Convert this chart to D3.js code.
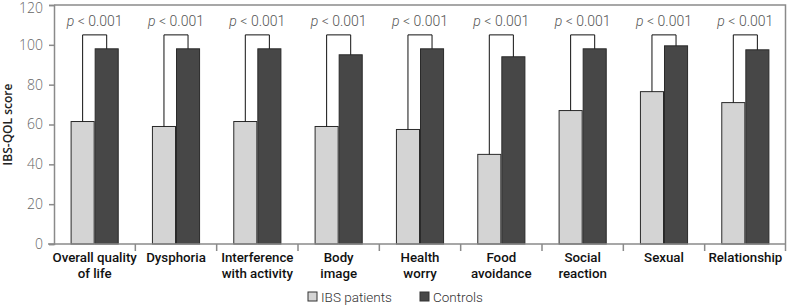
<!DOCTYPE html>
<html>
<head>
<meta charset="utf-8">
<script src="https://cdn.jsdelivr.net/npm/d3@7"></script>
<style>
  body { margin: 0; background: #fff; }
  svg text { font-family: Roboto, "Open Sans", sans-serif; }
</style>
</head>
<body>
<div id="chart"></div>
<script>
// Data
const categories = ["Overall quality of life", "Dysphoria", "Interference with activity", "Body image",
    "Health worry", "Food avoidance", "Social reaction", "Sexual", "Relationship"];
const categoryLines = [["Overall quality", "of life"], ["Dysphoria"], ["Interference", "with activity"],
    ["Body", "image"], ["Health", "worry"], ["Food", "avoidance"], ["Social", "reaction"], ["Sexual"], ["Relationship"]];
const series = ["IBS patients", "Controls"];
const ibsPatients = [61.5, 59, 61.5, 59, 57.5, 45, 67, 76.5, 71];
const controls = [98, 98, 98, 95, 98, 94, 98, 99.5, 97.5];
const pLabels = ["p < 0.001", "p < 0.001", "p < 0.001", "p < 0.001", "p < 0.001",
    "p < 0.001", "p < 0.001", "p < 0.001", "p < 0.001"];
const bracketLevel = 105;
const yTicks = [0, 20, 40, 60, 80, 100, 120];

const width = 787, height = 306;
const margin = {top: 5, right: 1, bottom: 62, left: 54};
const colors = {"IBS patients": "#d4d4d4", "Controls": "#474747"};
const axisColor = "#8a8a8a";

const svg = d3.select('#chart').append('svg')
    .attr('width', width).attr('height', height);

const x0 = d3.scaleBand().domain(categories)
    .range([margin.left, width - margin.right]).padding(0);
const x1 = d3.scaleBand().domain(series)
    .range([0, x0.bandwidth()]).paddingInner(0).paddingOuter(0.69);
const y = d3.scaleLinear().domain([0, 120]).range([height - margin.bottom, margin.top]);

// frame: top and right borders
svg.append('path')
    .attr('d', `M${margin.left},${margin.top}H${width - margin.right - 0.5}V${y(0) + 7}`)
    .attr('fill', 'none').attr('stroke', axisColor).attr('stroke-width', 1.5);

// y axis
const yAxis = svg.append('g')
    .attr('transform', `translate(${margin.left},0)`)
    .call(d3.axisLeft(y).tickValues(yTicks).tickSize(5).tickPadding(6));
yAxis.select('.domain').attr('stroke', axisColor).attr('stroke-width', 1.5);
yAxis.selectAll('.tick line').attr('stroke', axisColor).attr('stroke-width', 1.5);
yAxis.selectAll('.tick text').attr('fill', '#666').attr('font-size', 14)
    .attr('font-weight', 300).style('font-family', '"Open Sans", sans-serif')
    .attr('dy', d => d === 120 ? '0.55em' : '0.32em');

// y axis title
svg.append('text')
    .attr('transform', `translate(12,${(y(0) + y(120)) / 2}) rotate(-90)`)
    .attr('text-anchor', 'middle')
    .attr('font-size', 12).attr('font-weight', 600).attr('fill', '#222')
    .style('font-family', '"Open Sans", sans-serif')
    .text('IBS-QOL score');

// bars
const groups = svg.append('g').selectAll('g.group')
    .data(categories.map((c, i) => ({cat: c, values: [ibsPatients[i], controls[i]]})))
    .join('g').classed('group', true)
    .attr('transform', d => `translate(${x0(d.cat)},0)`);

groups.selectAll('rect')
    .data(d => series.map((s, j) => ({key: s, value: d.values[j]})))
    .join('rect')
    .attr('x', d => x1(d.key) + 0.5)
    .attr('y', d => y(d.value))
    .attr('width', x1.bandwidth() - 1)
    .attr('height', d => y(0) - y(d.value))
    .attr('fill', d => colors[d.key])
    .attr('stroke', '#2a2a2a').attr('stroke-width', 1);

// significance brackets
groups.append('path')
    .attr('d', d => {
        const a = x1(series[0]) + x1.bandwidth() / 2, b = x1(series[1]) + x1.bandwidth() / 2;
        return `M${a},${y(d.values[0])}V${y(bracketLevel)}H${b}V${y(d.values[1])}`;
    })
    .attr('fill', 'none').attr('stroke', '#111').attr('stroke-width', 1);

groups.append('text')
    .attr('x', x0.bandwidth() / 2)
    .attr('y', 26)
    .attr('text-anchor', 'middle')
    .attr('font-size', 14).attr('font-weight', 300).attr('fill', '#555')
    .each(function(d, i){
        const parts = pLabels[i].split(' ');
        const t = d3.select(this);
        t.append('tspan').attr('font-style', 'italic').text(parts[0]);
        t.append('tspan').text(' ' + parts.slice(1).join(' '));
    });

// x axis
const xAxis = svg.append('g');
xAxis.append('line')
    .attr('x1', margin.left - 6).attr('x2', width - margin.right)
    .attr('y1', y(0)).attr('y2', y(0))
    .attr('stroke', axisColor).attr('stroke-width', 1.5);
xAxis.selectAll('line.tick')
    .data(categories.slice(1))
    .join('line').classed('tick', true)
    .attr('x1', d => x0(d)).attr('x2', d => x0(d))
    .attr('y1', y(0)).attr('y2', y(0) + 7)
    .attr('stroke', axisColor).attr('stroke-width', 1.5);

xAxis.selectAll('text.cat')
    .data(categories)
    .join('text').classed('cat', true)
    .attr('x', d => x0(d) + x0.bandwidth() / 2)
    .attr('y', 262)
    .attr('text-anchor', 'middle')
    .attr('font-size', 13.3).attr('font-weight', 500).attr('fill', '#111')
    .each(function(d, i){
        const t = d3.select(this);
        categoryLines[i].forEach((line, k) => {
            t.append('tspan').attr('x', x0(d) + x0.bandwidth() / 2)
                .attr('dy', k === 0 ? 0 : 15.5).text(line);
        });
    });

// legend
const legendX = [308, 420];
const legend = svg.append('g').selectAll('g.item')
    .data(series).join('g').classed('item', true)
    .attr('transform', (d, i) => `translate(${legendX[i]},292)`);
legend.append('rect')
    .attr('width', 9).attr('height', 9)
    .attr('fill', d => colors[d]).attr('stroke', '#333').attr('stroke-width', 1);
legend.append('text')
    .attr('x', 13).attr('y', 9.5)
    .attr('font-size', 13.5).attr('font-weight', 300).attr('fill', '#333')
    .text(d => d);
</script>
</body>
</html>
